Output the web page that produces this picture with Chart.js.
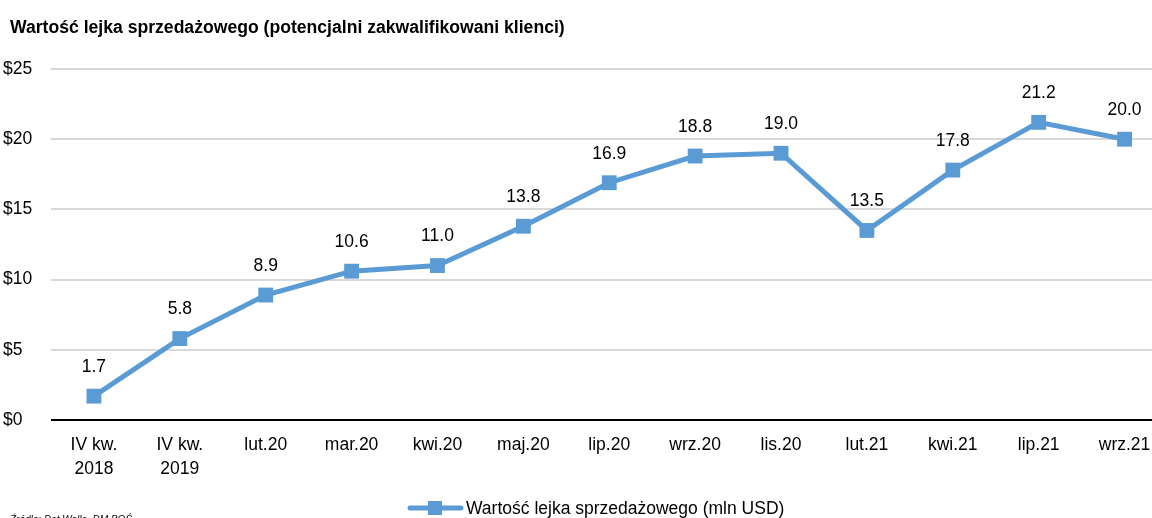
<!DOCTYPE html>
<html><head><meta charset="utf-8">
<script src="https://cdn.jsdelivr.net/npm/chart.js@4"></script>
<style>
html,body{margin:0;padding:0;background:#fff;overflow:hidden;}
#wrap{width:1152px;height:518px;overflow:hidden;position:relative;}
#box{width:1178px;height:518px;}
</style></head>
<body><div id="wrap"><div id="box"><canvas id="c"></canvas></div></div>
<script>
const titleText = 'Wartość lejka sprzedażowego (potencjalni zakwalifikowani klienci)';
const seriesName = 'Wartość lejka sprzedażowego (mln USD)';
const sourceText = 'Źródło: Dot Walle, DM BOŚ';
const categories = [['IV kw.','2018'],['IV kw.','2019'],'lut.20','mar.20','kwi.20','maj.20','lip.20','wrz.20','lis.20','lut.21','kwi.21','lip.21','wrz.21'];
const values = [1.7,5.8,8.9,10.6,11.0,13.8,16.9,18.8,19.0,13.5,17.8,21.2,20.0];
const yTicks = [0,5,10,15,20,25];

const FONT = "'Liberation Sans', Arial, sans-serif";
const FS = 17.5;
const BLUE = '#5b9bd5';

const extrasPlugin = {
  id: 'extras',
  afterDatasetsDraw(chart){
    const ctx = chart.ctx;
    const meta = chart.getDatasetMeta(0);
    ctx.save();
    ctx.font = FS + 'px ' + FONT;
    ctx.fillStyle = '#000';
    ctx.textAlign = 'center';
    ctx.textBaseline = 'middle';
    meta.data.forEach((p,i)=>{
      ctx.fillText(values[i].toFixed(1), p.x, p.y - 29);
    });
    ctx.restore();
  },
  afterDraw(chart){
    const ctx = chart.ctx;
    ctx.save();
    // title
    ctx.font = 'bold 17.6px ' + FONT;
    ctx.fillStyle = '#000';
    ctx.textAlign = 'left';
    ctx.textBaseline = 'middle';
    ctx.fillText(titleText, 10, 28);
    // legend
    const ds = chart.data.datasets[0];
    const lx = 408, ly = 508;
    ctx.strokeStyle = ds.borderColor; ctx.lineWidth = 5; ctx.lineCap = 'round';
    ctx.beginPath(); ctx.moveTo(lx + 2, ly); ctx.lineTo(lx + 53, ly); ctx.stroke();
    ctx.fillStyle = ds.backgroundColor;
    ctx.fillRect(lx + 20, ly - 7, 14, 14);
    ctx.fillStyle = '#000';
    ctx.font = FS + 'px ' + FONT;
    ctx.fillText(ds.label, lx + 58, ly + 1);
    // source
    ctx.font = 'italic 10px ' + FONT;
    ctx.fillText(sourceText, 10, 520);
    ctx.restore();
  }
};

new Chart(document.getElementById('c'), {
  type: 'line',
  data: {
    labels: categories,
    datasets: [{
      label: seriesName,
      data: values,
      borderColor: BLUE,
      backgroundColor: BLUE,
      borderWidth: 5,
      pointStyle: 'rect',
      pointRadius: 10.5,
      pointBorderWidth: 0,
      pointHoverRadius: 10.5,
      tension: 0,
      clip: false
    }]
  },
  options: {
    responsive: true,
    maintainAspectRatio: false,
    animation: false,
    devicePixelRatio: 1,
    layout: { padding: { top: 69, left: 3, right: 0, bottom: 0 } },
    plugins: {
      title: { display: false },
      tooltip: { enabled: false },
      legend: { display: false }
    },
    scales: {
      x: {
        offset: true,
        grid: { display: false, drawTicks: false },
        border: { display: false },
        afterFit(s){ s.height = 98; },
        ticks: { color: '#000', font: { family: FONT, size: FS, lineHeight: 1.37 }, padding: 13, maxRotation: 0, autoSkip: false }
      },
      y: {
        min: 0, max: 25,
        afterBuildTicks(s){ s.ticks = yTicks.map(v=>({value:v})); },
        afterFit(s){ s.width = 48; },
        grid: {
          color: (c)=> c.tick && c.tick.value === 0 ? '#000' : '#d9d9d9',
          lineWidth: 2,
          drawTicks: false
        },
        border: { display: false },
        ticks: {
          color: '#000', font: { family: FONT, size: FS }, padding: 0,
          crossAlign: 'far',
          callback: (v)=> '$' + v
        }
      }
    }
  },
  plugins: [extrasPlugin]
});
</script></body></html>
